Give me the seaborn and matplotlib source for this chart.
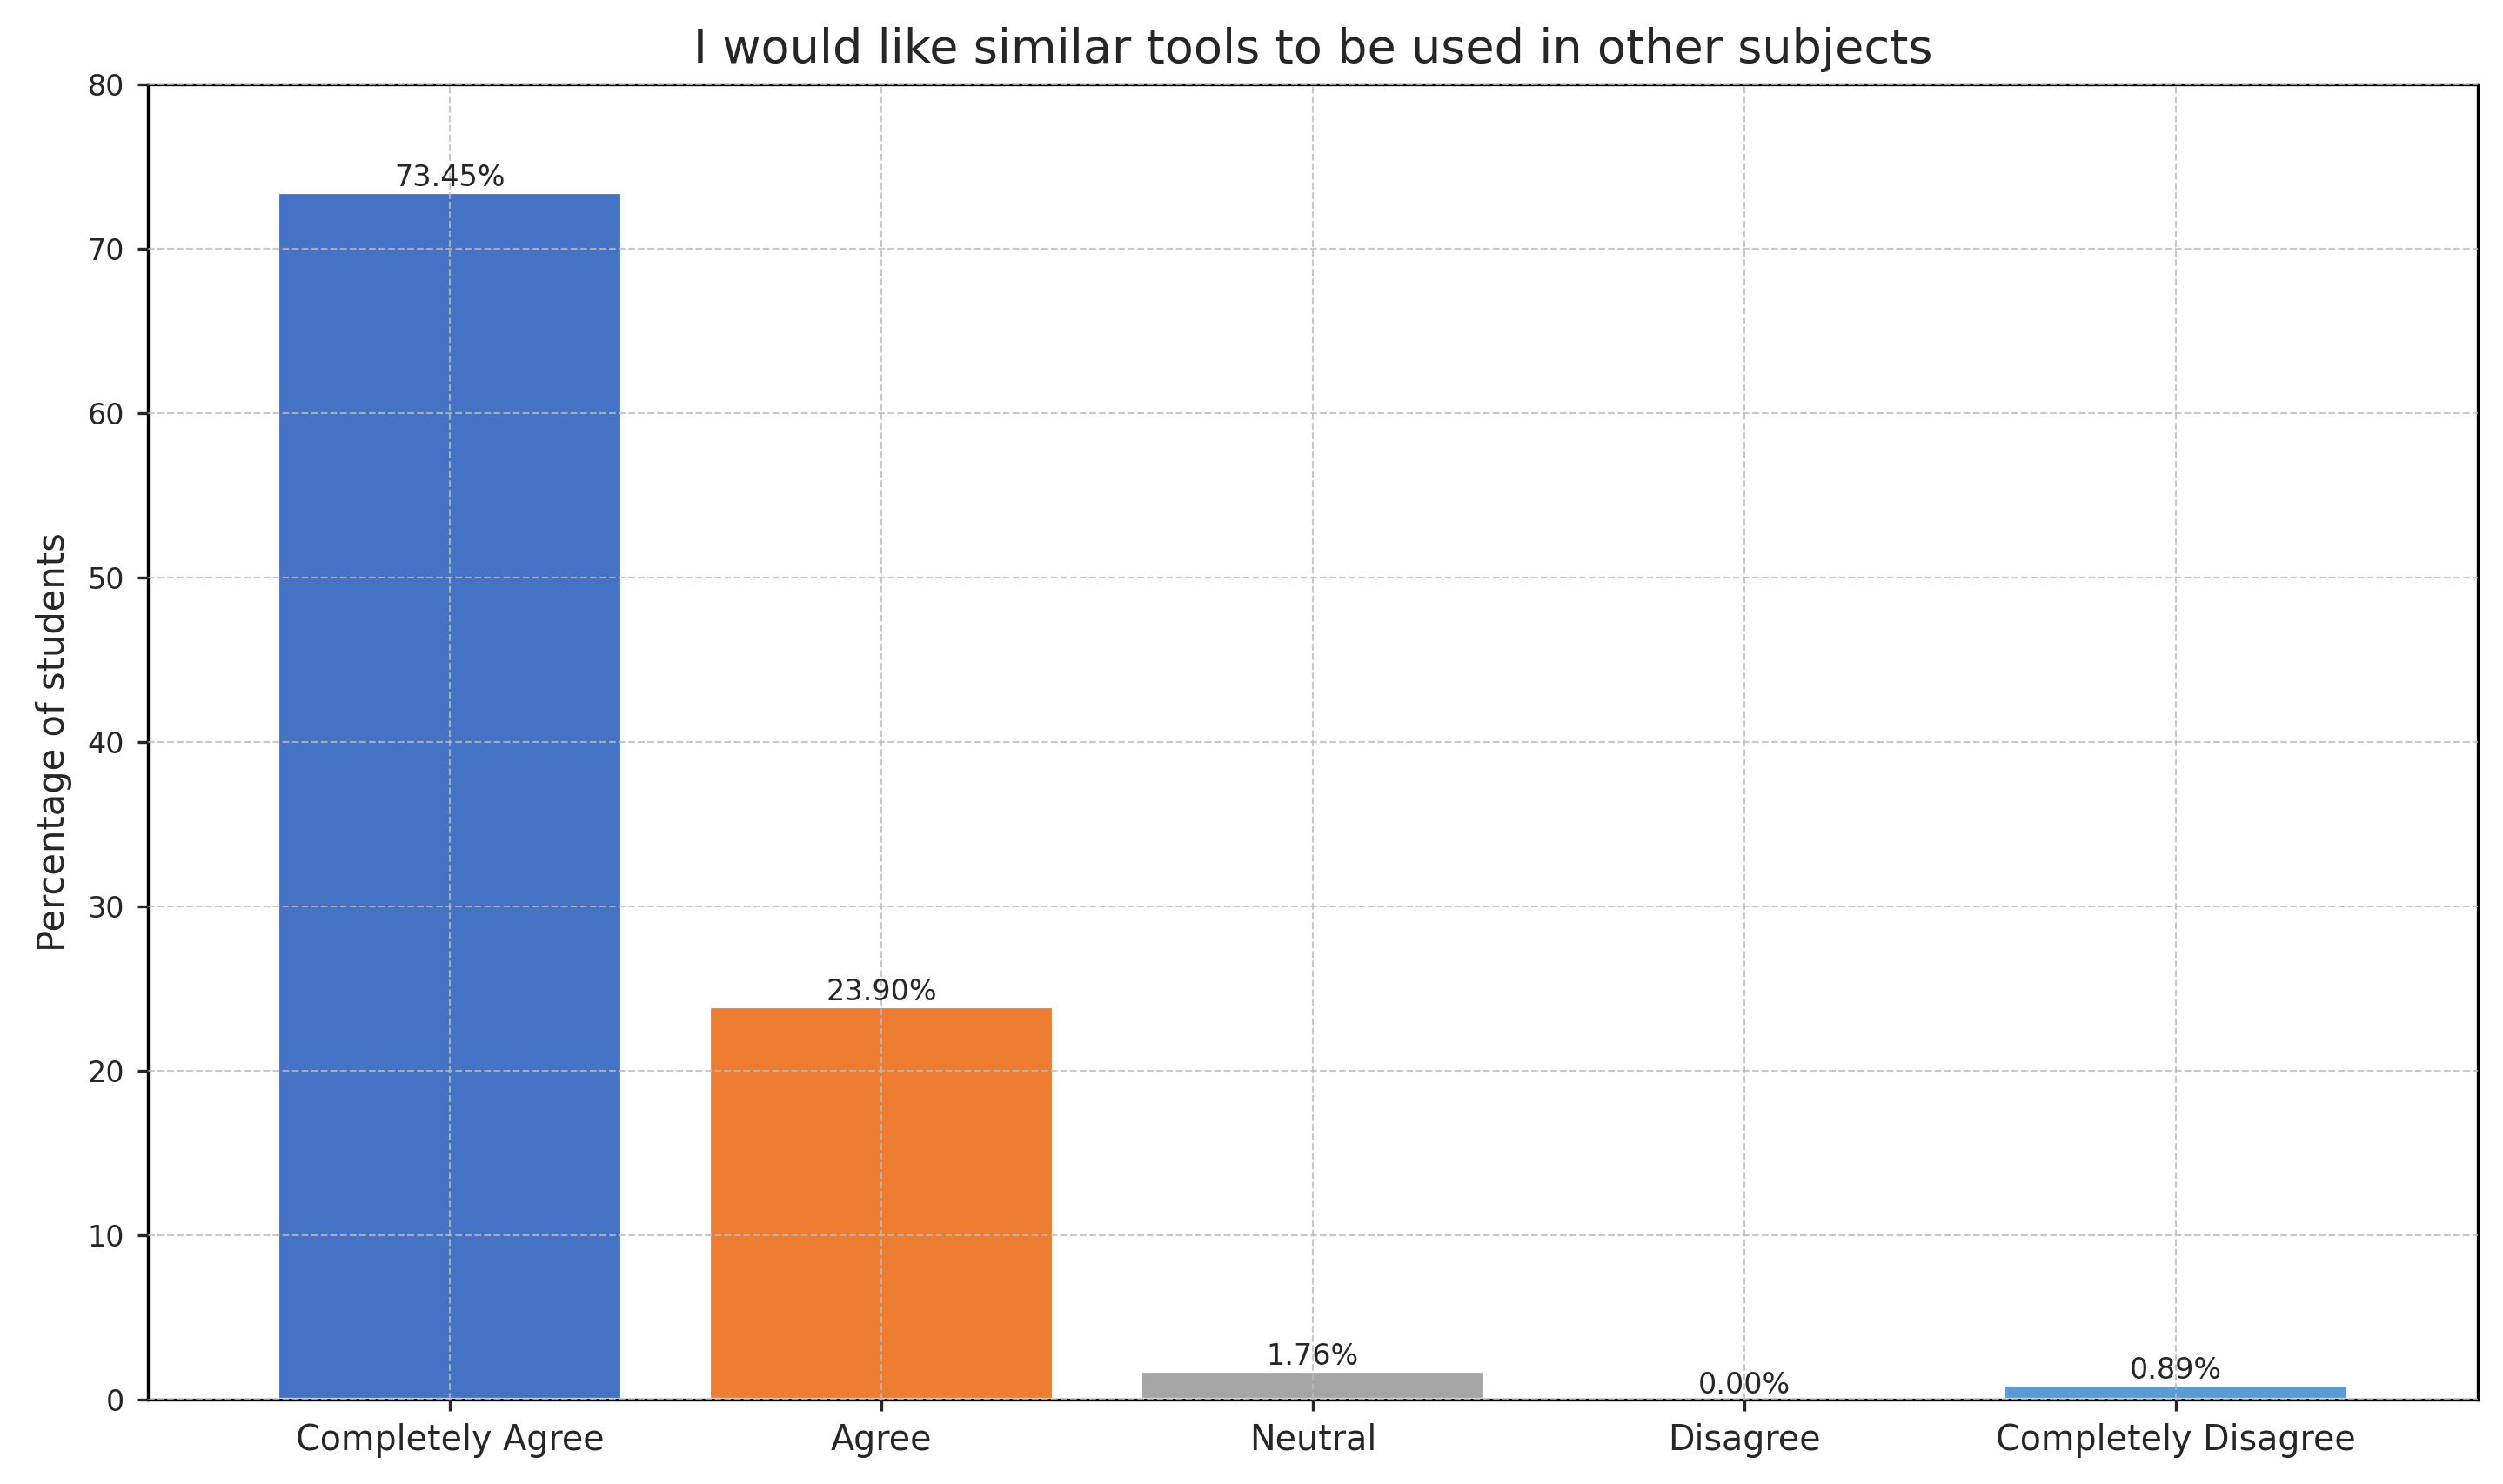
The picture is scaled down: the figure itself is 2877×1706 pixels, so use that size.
import matplotlib
matplotlib.use("Agg")
import matplotlib.pyplot as plt
import seaborn as sns
import pandas as pd

categories = ["Completely Agree", "Agree", "Neutral", "Disagree", "Completely Disagree"]
values = [73.45, 23.90, 1.76, 0.00, 0.89]
colors = ["#4472c4", "#ed7d31", "#a5a5a5", "#ffc000", "#5b9bd5"]

sns.set_style("white")
plt.rcParams['font.family'] = ['DejaVu Sans']
fig = plt.figure(figsize=(2877/300, 1706/300), dpi=300)
ax = fig.add_axes([0.059, 0.057, 0.931, 0.886])
df = pd.DataFrame({"cat": categories, "val": values})
sns.barplot(data=df, x="cat", y="val", hue="cat", palette=colors, legend=False,
            ax=ax, width=0.8, saturation=1)
for i, v in enumerate(values):
    ax.text(i, v, f"{v:.2f}%", ha="center", va="bottom", fontsize=8)
ax.set_ylim(0, 80)
ax.set_xlim(-0.7, 4.7)
ax.grid(True, linestyle="--", linewidth=0.5, color="#bbbbbb", alpha=0.8)
ax.set_axisbelow(False)
for s in ax.spines.values():
    s.set_color("black"); s.set_linewidth(0.8)
ax.tick_params(axis="x", labelsize=9.5, length=3, bottom=True)
ax.tick_params(axis="y", labelsize=8, length=3, left=True)
ax.set_xlabel("")
ax.set_ylabel("Percentage of students", fontsize=10)
ax.set_title("I would like similar tools to be used in other subjects", fontsize=13)
fig.savefig("out.png", dpi=300)
